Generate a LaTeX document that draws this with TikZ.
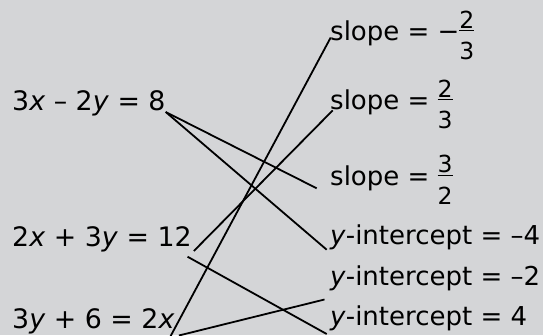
\documentclass[tikz,border=0pt]{standalone}
\usepackage{fontspec}
\setmainfont{DejaVu Sans}
\usepackage{tikz}

\definecolor{panelgray}{RGB}{212,213,215}

% stacked fraction in the text font
\newcommand\fr[2]{\raisebox{-19pt}{\vbox{\offinterlineskip\fontsize{23.5}{23.5}\selectfont
  \halign{\hfil##\hfil\cr\hbox{#1}\cr\noalign{\kern1.6pt\hrule height1.3pt\kern10.4pt}\hbox{#2}\cr}}}}

\begin{document}
\begin{tikzpicture}[
    x=1pt, y=-1pt,
    eqn/.style={anchor=base west, inner sep=0pt, font=\fontsize{26.8}{30}\selectfont},
    prop/.style={anchor=base west, inner sep=0pt, font=\fontsize{26}{30}\selectfont},
    line/.style={draw, line width=1.8pt}
]

    % Background
    \useasboundingbox [fill=panelgray] (0,0) rectangle (543,335);

    % Equations
    \node [eqn] (eq1) at (12,110) {3\textit{x} – 2\textit{y} = 8};
    \node [eqn] (eq2) at (12,246) {2\textit{x} + 3\textit{y} = 12};
    \node [eqn] (eq3) at (12,328) {3\textit{y} + 6 = 2\textit{x}};

    % Slopes
    \node [prop] (slope1) at (330,40) {slope = −\fr{2}{3}};
    \node [prop] (slope2) at (330,109) {slope = \fr{2}{3}};
    \node [prop] (slope3) at (330,185) {slope = \fr{3}{2}};

    % Intercepts
    \node [prop] (yint1) at (330,244) {\textit{y}-intercept = –4};
    \node [prop] (yint2) at (330,285) {\textit{y}-intercept = –2};
    \node [prop] (yint3) at (330,325) {\textit{y}-intercept = 4};

    % Matching lines
    \path [line] ([yshift=-2pt]eq1.base east) -- ([shift={(-13.3pt,-3.3pt)}]slope3.base west);
    \path [line] ([yshift=-2pt]eq1.base east) -- ([shift={(-3.3pt,-5.7pt)}]yint1.base west);
    \path [line] ([shift={(2pt,-5pt)}]eq2.base east) -- ([shift={(2.7pt,-1.4pt)}]slope2.base west);
    \path [line] ([shift={(-4.3pt,-10.7pt)}]eq2.base east) -- ([shift={(-3.3pt,-9pt)}]yint3.base west);
    \path [line] ([shift={(-4.4pt,-8.5pt)}]eq3.base east) -- ([shift={(0.7pt,2.5pt)}]slope1.base west);
    \path [line] ([shift={(4.1pt,-7.5pt)}]eq3.base east) -- ([shift={(-5.5pt,-14.5pt)}]yint2.base west);

\end{tikzpicture}
\end{document}
